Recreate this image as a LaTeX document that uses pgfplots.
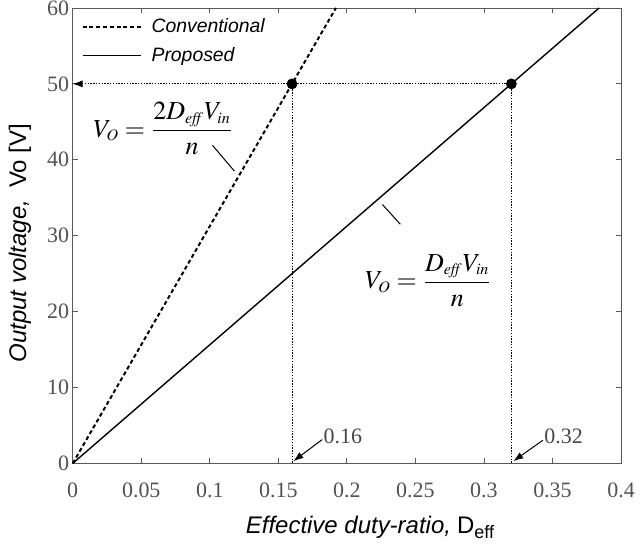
\documentclass[border=0pt]{standalone}
\usepackage{mathptmx}
\usepackage{fontspec}
\setmainfont{Liberation Serif}
\newfontfamily\arial{Liberation Sans}
\DeclareMathSizes{13}{13}{8}{6}
\usepackage{pgfplots}
\pgfplotsset{compat=1.18}
\usetikzlibrary{calc,arrows.meta}
\begin{document}
\begin{tikzpicture}
\begin{axis}[name=ax, scale only axis, width=274.5pt, height=228pt,
  xmin=0, xmax=0.4, ymin=0, ymax=60,
  xtick={0,0.05,0.1,0.15,0.2,0.25,0.3,0.35,0.4},
  xticklabels={0,0.05,0.1,0.15,0.2,0.25,0.3,0.35,0.4},
  ytick={0,10,20,30,40,50,60},
  tick align=inside, major tick length=2.6pt,
  axis line style={draw=black!65}, every tick/.style={black!65, line width=0.4pt},
  ticklabel style={font=\fontsize{11}{12}\selectfont, text=black!68},
  /pgf/number format/assume math mode=true,
  xticklabel style={anchor=center, yshift=-13.5pt},
  yticklabel style={inner xsep=1.6pt},
  clip=false,
  xlabel={{\arial\itshape Effective duty-ratio,} {\arial D\textsubscript{eff}}},
  ylabel={{\arial\itshape Output voltage,}\ \ {\arial Vo [V]}},
  label style={font=\fontsize{12}{14}\selectfont},
  xlabel style={at={(axis description cs:0.543,-0.140)}, anchor=center},
  ylabel style={at={(axis description cs:-0.0962,0.4836)}, anchor=center},
  legend style={at={(axis description cs:0.012,0.99)}, anchor=north west, draw=none, fill=none,
    font=\arial\itshape\fontsize{9.7}{11}\selectfont, row sep=1.6pt, inner sep=1pt,
    nodes={inner xsep=5pt}},
  legend cell align=left,
  legend image code/.code={\draw[#1] (0pt,0pt) -- (29pt,0pt);},
]
\addplot[black, line width=1pt, dash pattern=on 2pt off 1.4pt] coordinates {(0,0) (0.192,60)};
\addlegendentry{Conventional}
\addplot[black, line width=0.7pt] coordinates {(0,0) (0.384,60)};
\addlegendentry{Proposed}
\addplot[black, line width=0.45pt, dash pattern=on 0.7pt off 0.7pt, -{Latex[length=5pt,width=3.6pt]}, forget plot] coordinates {(0.32,50) (0,50)};
\addplot[black, line width=0.45pt, dash pattern=on 0.7pt off 0.7pt, forget plot] coordinates {(0.16,50) (0.16,0)};
\addplot[black, line width=0.45pt, dash pattern=on 0.7pt off 0.7pt, forget plot] coordinates {(0.32,50) (0.32,0)};
\addplot[only marks, mark=*, mark size=2.5pt, black, forget plot] coordinates {(0.16,50) (0.32,50)};
% equations
\node[anchor=west, inner sep=0pt, font=\fontsize{13}{15}\selectfont] at (axis cs:0.0148,44.1) {$\displaystyle V_O = \frac{2D_{\mathit{eff}}V_{\mathit{in}}}{n}$};
\draw[black, line width=0.5pt] (axis cs:0.102,41.9) -- (axis cs:0.118,38.5);
\node[anchor=west, inner sep=0pt, font=\fontsize{13}{15}\selectfont] at (axis cs:0.213,24.1) {$\displaystyle V_O = \frac{D_{\mathit{eff}}V_{\mathit{in}}}{n}$};
\draw[black, line width=0.5pt] (axis cs:0.226,34.1) -- (axis cs:0.239,31.5);
% annotations
\draw[black, line width=0.5pt, -{Latex[length=5pt,width=3.6pt]}] (axis cs:0.182,3.14) -- (axis cs:0.161,0.3);
\node[anchor=west, inner sep=0.5pt, font=\fontsize{11}{12}\selectfont, text=black!72] at (axis cs:0.182,3.5) {0.16};
\draw[black, line width=0.5pt, -{Latex[length=5pt,width=3.6pt]}] (axis cs:0.343,3.05) -- (axis cs:0.3215,0.3);
\node[anchor=west, inner sep=0.5pt, font=\fontsize{11}{12}\selectfont, text=black!72] at (axis cs:0.343,3.5) {0.32};
\end{axis}
\pgfresetboundingbox
\path ($(ax.south west)+(-36.4pt,-41pt)$) rectangle ($(ax.north east)+(11pt,4pt)$);
\end{tikzpicture}
\end{document}
